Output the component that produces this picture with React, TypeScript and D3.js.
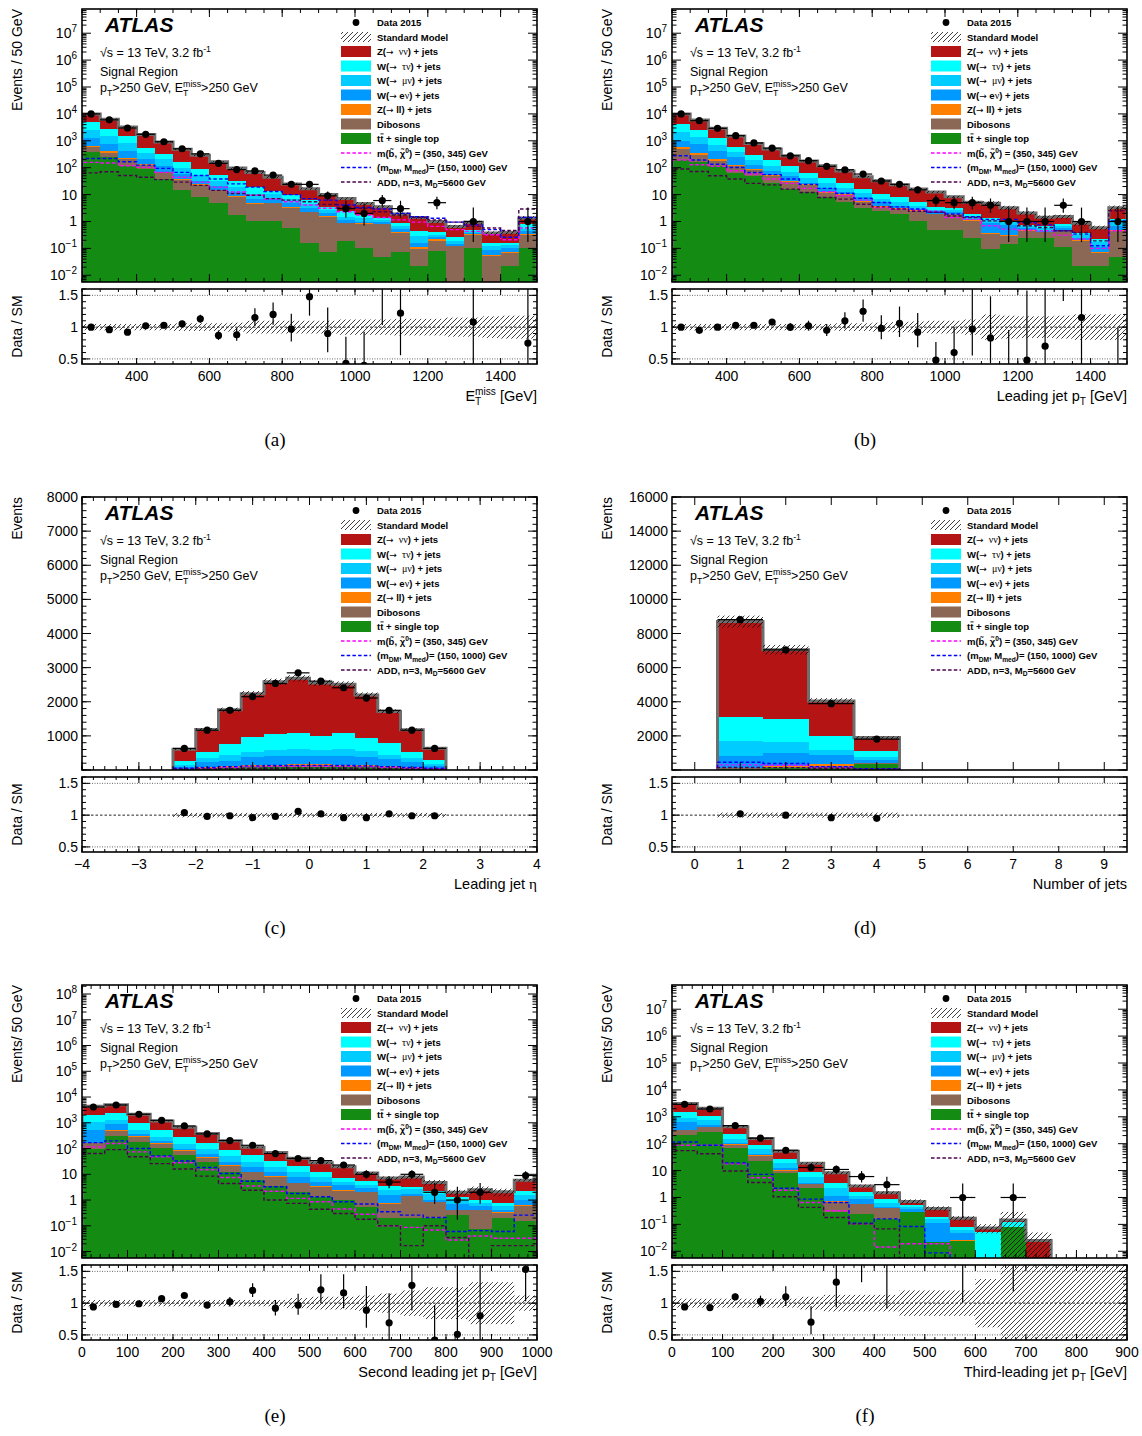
import React from 'react';
import * as d3 from 'd3';

const FONT = '"Liberation Sans", Arial, Helvetica, sans-serif';
const SERIF = '"Liberation Serif", "DejaVu Serif", serif';

// stack order, bottom first: ttbar, dibosons, Z(ll), W(ev), W(mv), W(tv), Z(vv)
const PROCESS_COLORS = ['#148c14', '#8b6856', '#ff8000', '#0099ff', '#00ccff', '#00ffff', '#b51414'];
const SIGNAL_COLORS = ['#ff00ff', '#0000ff', '#4d004d'];
const RATIO_DOMAIN: [number, number] = [0.42, 1.6];

// ---------------- (a) missing transverse momentum ----------------
const metEdges = d3.range(250, 1501, 50);
const metTtbar = [385, 260, 118, 89, 38, 14.4, 7.8, 5.0, 1.75, 1.06, 1.0, 0.57, 0.16, 0.075, 0.185, 0.106, 0.048, 0.075, 0.023, 0.08, 0, 0.106, 0, 0.023, 0.106];
const metDiboson = [200, 104, 101, 35, 29, 21.6, 15, 9.4, 6.5, 3.6, 3.7, 2.7, 2.0, 1.4, 0.68, 0.69, 0.75, 0.3, 0.07, 0.116, 0.12, 0.22, 0.05, 0.046, 0.22];
const metZll = [60, 43, 20, 8, 5, 2, 1.5, 0.9, 0.5, 0.3, 0.3, 0.2, 0.1, 0.1, 0.05, 0.05, 0.03, 0.04, 0.02, 0.02, 0.006, 0.01, 0.008, 0.006, 0.01];
const metWenu = [645, 327, 180, 87, 45, 21, 8.7, 4.7, 3.8, 2.1, 2.1, 1.5, 0.8, 0.5, 0.23, 0.15, 0.12, 0.09, 0.05, 0.04, 0.02, 0.035, 0.032, 0.031, 0.1];
const metWmunu = [1310, 746, 381, 145, 89, 38, 21, 12, 6.5, 3.8, 3.8, 2.1, 1.6, 0.6, 0.35, 0.32, 0.2, 0.16, 0.12, 0.065, 0.048, 0.06, 0.03, 0.023, 0.09];
const metWtaunu = [2220, 1270, 680, 191, 109, 69, 35, 22, 13, 7.6, 2.3, 2.4, 1.9, 0.8, 1.0, 0.43, 0.25, 0.21, 0.15, 0.1, 0.08, 0.07, 0.04, 0.032, 0.28];
const metZnunu = [5180, 3630, 1770, 1150, 578, 316, 201, 112, 65, 48, 31, 15.5, 10, 6.5, 4.6, 2.95, 2.1, 1.03, 0.97, 0.57, 0.38, 0.43, 0.21, 0.24, 0.55];
const metData = [10000, 6000, 2990, 1740, 920, 505, 328, 145, 85, 76, 53, 24, 24, 9, 3, 2, 6, 3, 0, 5, 0, 1, 0, 0, 1];
const metRatio = [1.0, 0.96, 0.92, 1.02, 1.03, 1.05, 1.13, 0.87, 0.88, 1.15, 1.2, 0.97, 1.48, 0.9, 0.43, 0.4, 1.71, 1.22, null, 5.0, null, 1.08, null, null, 0.75];
const metUnc = [0.05, 0.05, 0.05, 0.05, 0.05, 0.06, 0.06, 0.06, 0.07, 0.1, 0.1, 0.1, 0.1, 0.1, 0.12, 0.12, 0.12, 0.13, 0.13, 0.13, 0.15, 0.15, 0.17, 0.18, 0.18];
const metSbottom = [157, 150, 118, 103, 67, 44, 29, 19, 12.5, 9.5, 6.8, 5.4, 4.1, 3.1, 2.3, 1.75, 1.4, 1.15, 0.95, 0.66, 0.5, 0.43, 0.32, 0.21, 0.57];
const metDM = [219, 219, 166, 125, 94, 67, 51, 38, 25, 19, 13, 10, 7.1, 6.2, 4.1, 3.3, 2.9, 2.0, 1.5, 1.32, 0.95, 0.75, 0.5, 0.26, 1.4];
const metADD = [64, 71, 51, 44, 36, 29, 22, 14.4, 10.9, 9.5, 7.1, 6.2, 5.4, 4.3, 3.3, 3.1, 2.3, 1.75, 1.4, 1.15, 0.95, 0.66, 0.57, 0.46, 2.9];

// ---------------- (b) leading jet pT ----------------
const ptEdges = d3.range(250, 1501, 50);
const ptTtbar = [190, 157, 118, 66, 50, 28, 16, 12, 7.8, 5.1, 3.3, 2.5, 1.9, 1.05, 0.48, 0.48, 0.25, 0.093, 0.143, 0.25, 0.25, 0.108, 0.022, 0.022, 0.046];
const ptDiboson = [300, 143, 64, 52, 31, 22, 14, 10.5, 3.2, 4.5, 1.8, 0.8, 1.0, 1.45, 1.4, 1.4, 0.8, 0.25, 0.15, 0.2, 0.14, 0.34, 0.17, 0.048, 0.4];
const ptZll = [80, 40, 26, 11, 8, 5, 2, 2, 1, 0.8, 0.8, 0.5, 0.4, 0.1, 0.1, 0.1, 0.05, 0.02, 0.02, 0.02, 0.02, 0.02, 0.01, 0.005, 0.02];
const ptWenu = [430, 420, 217, 111, 40, 22, 18, 3.5, 5, 1.6, 1.9, 1.3, 0.5, 0.3, 0.3, 0.3, 0.15, 0.5, 0.4, 0.1, 0.05, 0.1, 0.05, 0.04, 0.2];
const ptWmunu = [1050, 580, 295, 130, 63, 41, 22, 15, 9, 5.4, 3.2, 1.7, 1.3, 0.9, 0.5, 0.4, 0.3, 0.3, 0.2, 0.1, 0.1, 0.1, 0.06, 0.06, 0.3];
const ptWtaunu = [2150, 1160, 540, 230, 108, 74, 46, 23, 17, 10.6, 5, 3.6, 2.7, 1.3, 0.8, 0.6, 0.4, 0.2, 0.15, 0.1, 0.1, 0.15, 0.05, 0.05, 0.3];
const ptZnunu = [5800, 3400, 1640, 900, 500, 303, 159, 112, 75, 48, 30, 22.6, 15.2, 10.9, 8.9, 5.0, 3.2, 3.4, 2.2, 1.3, 0.78, 0.7, 0.5, 0.36, 2.0];
const ptData = [10000, 5600, 2900, 1550, 830, 535, 277, 182, 112, 84, 58, 32, 24, 15, 6, 5, 5, 4, 1, 1, 1, 4, 1, 0, 1];
const ptRatio = [1.0, 0.95, 1.0, 1.03, 1.03, 1.08, 1.0, 1.02, 0.95, 1.1, 1.25, 0.98, 1.06, 0.92, 0.48, 0.6, 0.97, 0.83, 0.29, 0.48, 0.7, 2.7, 1.15, null, 0.3];
const ptUnc = [0.05, 0.05, 0.05, 0.05, 0.05, 0.05, 0.05, 0.05, 0.05, 0.06, 0.06, 0.07, 0.08, 0.09, 0.1, 0.1, 0.12, 0.2, 0.18, 0.17, 0.17, 0.18, 0.2, 0.2, 0.2];
const ptSbottom = [192, 129, 112, 77, 58, 38, 26, 17, 12.7, 9, 6.2, 3.3, 2.9, 2.6, 2.4, 1.4, 1.2, 0.69, 0.52, 0.48, 0.45, 0.31, 0.22, 0.1, 0.45];
const ptDM = [277, 192, 135, 102, 66, 55, 38, 24, 17, 11, 7.2, 5.1, 3.5, 2.9, 2.2, 1.9, 1.5, 1.2, 1.2, 0.92, 0.75, 0.45, 0.34, 0.125, 1.05];
const ptADD = [89, 72, 50, 38, 26, 23, 16, 12, 7.8, 6.8, 4.4, 3.5, 2.9, 2.4, 2.2, 1.6, 1.4, 1.05, 1.0, 0.69, 0.6, 0.45, 0.39, 0.19, 2.5];

// ---------------- (c) leading jet eta ----------------
const etaEdges = d3.range(13).map(i => -2.4 + 0.4 * i);
const etaTtbar = [20, 40, 60, 75, 85, 90, 90, 85, 75, 60, 40, 20];
const etaDiboson = [10, 20, 30, 35, 40, 45, 45, 40, 35, 30, 20, 10];
const etaZll = [8, 15, 20, 25, 28, 30, 30, 28, 25, 20, 15, 8];
const etaWenu = [49, 148, 162, 234, 265, 253, 253, 265, 254, 211, 148, 69];
const etaWmunu = [68, 117, 165, 146, 175, 194, 165, 194, 175, 126, 117, 58];
const etaWtaunu = [117, 195, 321, 466, 457, 467, 417, 467, 379, 340, 195, 136];
const etaZnunu = [336, 655, 1010, 1256, 1538, 1607, 1553, 1431, 1254, 929, 643, 337];
const etaData = [632, 1166, 1750, 2148, 2536, 2847, 2604, 2410, 2109, 1750, 1166, 632];
const etaRatio = [1.04, 0.98, 0.99, 0.96, 0.98, 1.06, 1.02, 0.96, 0.96, 1.02, 0.99, 0.99];
const etaUnc = [0.035, 0.035, 0.035, 0.035, 0.035, 0.035, 0.035, 0.035, 0.035, 0.035, 0.035, 0.035];
const etaSbottom = [40, 60, 80, 95, 105, 110, 110, 105, 95, 80, 60, 40];
const etaDM = [50, 75, 100, 120, 130, 135, 135, 130, 120, 100, 75, 50];
const etaADD = [20, 30, 40, 48, 52, 55, 55, 52, 48, 40, 30, 20];

// ---------------- (d) jet multiplicity ----------------
const njEdges = [0.5, 1.5, 2.5, 3.5, 4.5];
const njTtbar = [50, 100, 200, 350];
const njDiboson = [40, 50, 60, 50];
const njZll = [50, 60, 100, 30];
const njWenu = [696, 782, 534, 173];
const njWmunu = [836, 622, 273, 136];
const njWtaunu = [1439, 1400, 797, 369];
const njZnunu = [5589, 4036, 2086, 792];
const njData = [8810, 7040, 3890, 1810];
const njRatio = [1.02, 1.0, 0.96, 0.95];
const njUnc = [0.04, 0.04, 0.04, 0.04];
const njSbottom = [300, 280, 150, 50];
const njDM = [450, 380, 200, 70];
const njADD = [150, 140, 100, 40];

// ---------------- (e) second leading jet pT ----------------
const pt2Edges = d3.range(0, 1001, 50);
const pt2Ttbar = [100, 300, 186, 106, 55, 30, 12.5, 5.9, 3.5, 2.1, 1.35, 1.0, 0.55, 0.195, 0.195, 0.195, 0.26, 0.073, 0.21, 0.16];
const pt2Diboson = [60, 190, 100, 45, 28, 13, 9, 6, 4.7, 2.4, 1.9, 1.3, 1.45, 0.5, 1.2, 0.62, 0.14, 0.32, 0.11, 0.42];
const pt2Zll = [10, 20, 14, 8, 4, 3, 1.5, 0.8, 0.4, 0.3, 0.15, 0.1, 0.1, 0.05, 0.05, 0.05, 0.02, 0.02, 0.01, 0.04];
const pt2Wenu = [340, 420, 60, 40, 13, 18, 7, 6.8, 3.9, 3.2, 1.7, 1.4, 0.9, 0.8, 0.35, 0.14, 0.28, 0.18, 0.08, 0.38];
const pt2Wmunu = [560, 390, 185, 83, 56, 36, 20, 10.5, 7, 4.5, 2.9, 1.3, 0.8, 0.85, 0.8, 0.66, 0.3, 0.15, 0.18, 0.56];
const pt2Wtaunu = [880, 1080, 435, 228, 126, 66, 36, 25, 12.5, 8.5, 4.5, 2.4, 1.7, 1.1, 0.7, 0.54, 0.35, 0.26, 0.2, 0.74];
const pt2Znunu = [2410, 2600, 1180, 660, 393, 214, 114, 57, 38, 21, 15.5, 12.3, 5.7, 3.7, 4.5, 2.6, 0.65, 1.5, 1.3, 3.6];
const pt2Data = [4100, 4900, 2140, 1250, 755, 370, 204, 134, 64, 41, 34, 23, 10, 5, 10, 2, 1, 2, 0, 9];
const pt2Ratio = [0.94, 0.98, 0.99, 1.07, 1.12, 0.97, 1.02, 1.2, 0.92, 0.97, 1.21, 1.16, 0.89, 0.69, 1.28, 0.42, 0.51, 0.8, null, 1.53];
const pt2Unc = [0.05, 0.05, 0.05, 0.05, 0.05, 0.05, 0.05, 0.05, 0.05, 0.08, 0.1, 0.1, 0.12, 0.15, 0.2, 0.25, 0.25, 0.33, 0.33, 0.12];
const pt2Sbottom = [116, 156, 74, 48, 28, 15, 7.5, 3.5, 2.2, 1.16, 0.86, 0.45, 0.28, 0.1, 0.087, 0.069, 0.028, 0.04, 0.033, 0.033];
const pt2DM = [170, 198, 100, 52, 33, 18.4, 10.8, 5.4, 3.3, 1.8, 1.35, 0.86, 0.7, 0.35, 0.26, 0.21, 0.06, 0.065, 0.06, 0.26];
const pt2ADD = [64, 91, 48, 26, 16, 8.5, 4.4, 2.4, 1.0, 0.74, 0.44, 0.3, 0.18, 0.1, 0.017, 0.1, 0.035, 0.001, 0.017, 0.017];

// ---------------- (f) third leading jet pT ----------------
const pt3Edges = d3.range(0, 901, 50);
const pt3Ttbar = [215, 270, 69, 23.6, 8.3, 2.2, 0.3, 0.24, 0.16, 0.3, 0.022, 0.024, 0, 0.079, 0, 0, 0, 0];
const pt3Diboson = [105, 130, 21, 12, 1.7, 0.9, 0.39, 0.31, 0.24, 0, 0, 0, 0, 0, 0, 0, 0, 0];
const pt3Zll = [15, 10, 4, 1, 0.5, 0.1, 0.05, 0.03, 0.01, 0, 0, 0.003, 0, 0, 0, 0, 0, 0];
const pt3Wenu = [300, 90, 12, 6.4, 2.2, 0.4, 0.41, 0.29, 0.02, 0.06, 0.09, 0.02, 0, 0, 0, 0, 0, 0];
const pt3Wmunu = [300, 250, 42, 20, 6, 2.2, 1.2, 0.3, 0.22, 0.07, 0.05, 0.015, 0, 0, 0, 0, 0, 0];
const pt3Wtaunu = [615, 350, 80, 29, 8.3, 3.0, 1.25, 0.43, 0.22, 0.11, 0.03, 0.017, 0.051, 0.041, 0, 0, 0, 0];
const pt3Znunu = [1540, 1000, 199, 63, 25, 9.8, 4.7, 1.1, 0.63, 0.17, 0.2, 0.09, 0.023, 0.026, 0.025, 0, 0, 0];
const pt3Data = [2900, 1950, 470, 160, 57, 13, 11, 6, 3, 0, 0, 1, 0, 1, 0, 0, 0, 0];
const pt3Ratio = [0.94, 0.93, 1.1, 1.03, 1.1, 0.7, 1.33, 2.2, 2.0, null, null, 5.9, null, 6.9, null, null, null, null];
const pt3Unc = [0.07, 0.07, 0.07, 0.07, 0.07, 0.1, 0.13, 0.13, 0.13, 0.2, 0.2, 0.2, 0.38, 1, 1, 1, 1, 1];
const pt3Sbottom = [87, 87, 18, 5.4, 1.86, 0.65, 0.32, 0.104, 0.0145, 0.019, 0.019];
const pt3DM = [115, 87, 19.4, 7.2, 2.2, 0.87, 0.65, 0.11, 0.16, 0.083, 0.0087];
const pt3ADD = [55, 42, 9.6, 3.6, 1.06, 0.43, 0.18, 0.104, 0.068, 0.001];

// ---------------- helpers ----------------
type SegKind = 'n' | 'sub' | 'sup' | 'supT' | 'arrow' | 'greek' | 'greekSp';
type Seg = [string, SegKind];

function rich(segs: Seg[], fs: number) {
  let cur = 0;
  const small = fs * 0.7;
  return segs.map(([t, k], i) => {
    let target = 0;
    let size = fs;
    let dx = 0;
    let family: string | undefined;
    let weight: string | undefined;
    if (k === 'sub') { target = fs * 0.3; size = small; }
    if (k === 'sup') { target = -fs * 0.42; size = small; }
    if (k === 'supT') { target = -fs * 0.42; size = small; dx = -small * 0.61; }
    if (k === 'arrow') { family = '"DejaVu Sans", sans-serif'; weight = 'normal'; size = fs * 0.95; }
    if (k === 'greek' || k === 'greekSp') { family = SERIF; weight = 'normal'; size = fs * 1.05; }
    if (k === 'greekSp') dx = fs * 0.55;
    const dy = target - cur;
    cur = target;
    return (
      <tspan key={i} fontSize={size} dy={dy || undefined} dx={dx || undefined}
        fontFamily={family} fontWeight={weight}>{t}</tspan>
    );
  });
}

// approximate 68% CL Poisson interval for n observed events
function poissonInterval(n: number): [number, number] {
  const lo = n * Math.pow(1 - 1 / (9 * n) - 1 / (3 * Math.sqrt(n)), 3);
  const m = n + 1;
  const hi = m * Math.pow(1 - 1 / (9 * m) + 1 / (3 * Math.sqrt(m)), 3);
  return [lo, hi];
}

function logTicks(domain: [number, number]) {
  const [a, b] = domain;
  const major: number[] = [];
  const minor: number[] = [];
  for (let e = Math.floor(Math.log10(a)); e <= Math.ceil(Math.log10(b)); e++) {
    for (let k = 1; k < 10; k++) {
      const v = k * Math.pow(10, e);
      if (v < a || v > b) continue;
      (k === 1 ? major : minor).push(v);
    }
  }
  return { major, minor };
}

type PanelCfg = {
  left: number;
  top: number;
  edges: number[];
  xDomain: [number, number];
  xMajor: number[];
  xMinor: number[];
  xLabel: (v: number) => string;
  logY: boolean;
  yDomain: [number, number];
  yMajor: number[];
  yMinor: number[];
  procs: number[][];
  data: number[];
  ratio: (number | null)[];
  unc: number[];
  signals: number[][];
  yTitle: string;
  xTitle: Seg[];
  caption: string;
};

const LEGEND_ROWS: { kind: string; idx?: number; label: Seg[] }[] = [
  { kind: 'data', label: [['Data 2015', 'n']] },
  { kind: 'sm', label: [['Standard Model', 'n']] },
  { kind: 'proc', idx: 6, label: [['Z(', 'n'], ['→', 'arrow'], ['νν', 'greekSp'], [') + jets', 'n']] },
  { kind: 'proc', idx: 5, label: [['W(', 'n'], ['→', 'arrow'], ['τν', 'greekSp'], [') + jets', 'n']] },
  { kind: 'proc', idx: 4, label: [['W(', 'n'], ['→', 'arrow'], ['μν', 'greekSp'], [') + jets', 'n']] },
  { kind: 'proc', idx: 3, label: [['W(', 'n'], ['→', 'arrow'], [' e', 'n'], ['ν', 'greek'], [') + jets', 'n']] },
  { kind: 'proc', idx: 2, label: [['Z(', 'n'], ['→', 'arrow'], [' ll) + jets', 'n']] },
  { kind: 'proc', idx: 1, label: [['Dibosons', 'n']] },
  { kind: 'proc', idx: 0, label: [['tt + single top', 'n']] },
  { kind: 'sig', idx: 0, label: [['m(b\u0303, \u03c7\u0303', 'n'], ['0', 'sup'], [') = (350, 345) GeV', 'n']] },
  { kind: 'sig', idx: 1, label: [['(m', 'n'], ['DM', 'sub'], [', M', 'n'], ['med', 'sub'], [')= (150, 1000) GeV', 'n']] },
  { kind: 'sig', idx: 2, label: [['ADD, n=3, M', 'n'], ['D', 'sub'], ['=5600 GeV', 'n']] },
];

function Panel({ c, id }: { c: PanelCfg; id: string }) {
  const W = 455;
  const H = 273;
  const L = c.left;
  const T = c.top;
  const B = T + H;
  const RT = T + 280;
  const RB = T + 355;
  const e = c.edges;
  const nb = e.length - 1;
  const x = d3.scaleLinear().domain(c.xDomain).range([L, L + W]);
  const y: any = c.logY
    ? d3.scaleLog().domain(c.yDomain).range([B, T])
    : d3.scaleLinear().domain(c.yDomain).range([B, T]);
  const low = B + 4;
  const yv = (v: number) => (v <= c.yDomain[0] ? low : y(v));
  const r = d3.scaleLinear().domain(RATIO_DOMAIN).range([RB, RT]);
  const totals = d3.range(nb).map(i => d3.sum(c.procs, p => p[i] || 0));

  const step = (vals: number[]) => {
    let d = `M${x(e[0])},${low}`;
    vals.forEach((v, i) => {
      d += `V${yv(v)}H${x(e[i + 1])}`;
    });
    return d + `V${low}`;
  };

  const stackRects: React.ReactNode[] = [];
  for (let i = 0; i < nb; i++) {
    let cum = 0;
    c.procs.forEach((p, k) => {
      const v = p[i] || 0;
      if (v <= 0) return;
      const y0 = yv(cum);
      const y1 = yv(cum + v);
      cum += v;
      if (y0 - y1 <= 0) return;
      stackRects.push(
        <rect key={`s${i}-${k}`} x={x(e[i])} y={y1} width={x(e[i + 1]) - x(e[i])} height={y0 - y1}
          fill={PROCESS_COLORS[k]} shapeRendering="crispEdges" />
      );
    });
  }

  const mainBand = totals.map((t, i) => {
    if (t <= 0) return null;
    const u = c.unc[i];
    const yTopB = yv(t * (1 + u));
    const yBotB = yv(t * (1 - u));
    return <rect key={`mb${i}`} x={x(e[i])} y={yTopB} width={x(e[i + 1]) - x(e[i])} height={yBotB - yTopB} fill="url(#smHatch)" />;
  });

  let lastNonZero = totals.length - 1;
  while (lastNonZero > 0 && totals[lastNonZero] <= 0) lastNonZero--;
  const totalPath = step(totals.slice(0, lastNonZero + 1));

  const dataMarks: React.ReactNode[] = [];
  c.data.forEach((n, i) => {
    if (!n) return;
    const cx = (x(e[i]) + x(e[i + 1])) / 2;
    const [lo, hi] = poissonInterval(n);
    const cy = yv(n);
    dataMarks.push(
      <g key={`d${i}`}>
        <line x1={cx} x2={cx} y1={yv(hi)} y2={yv(lo)} stroke="#000" strokeWidth={1.2} />
        <line x1={x(e[i])} x2={x(e[i + 1])} y1={cy} y2={cy} stroke="#000" strokeWidth={1.2} />
        <circle cx={cx} cy={cy} r={3.6} fill="#000" />
      </g>
    );
  });

  const ratioMarks: React.ReactNode[] = [];
  c.ratio.forEach((rv, i) => {
    const n = c.data[i];
    if (rv == null || !n) return;
    const cx = (x(e[i]) + x(e[i + 1])) / 2;
    const [lo, hi] = poissonInterval(n);
    ratioMarks.push(
      <g key={`r${i}`}>
        <line x1={cx} x2={cx} y1={r(rv * hi / n)} y2={r(rv * lo / n)} stroke="#000" strokeWidth={1.2} />
        <circle cx={cx} cy={r(rv)} r={3.6} fill="#000" />
      </g>
    );
  });

  const ratioBand = c.unc.map((u, i) => {
    const y1 = r(1 + u);
    const y0 = r(1 - u);
    return <rect key={`rb${i}`} x={x(e[i])} y={y1} width={x(e[i + 1]) - x(e[i])} height={y0 - y1} fill="url(#smHatch)" />;
  });

  // ticks on all four sides of both pads
  const tick = (key: string, x1: number, y1: number, x2: number, y2: number) => (
    <line key={key} x1={x1} y1={y1} x2={x2} y2={y2} stroke="#000" strokeWidth={1} />
  );
  const ticks: React.ReactNode[] = [];
  c.xMajor.forEach((v, i) => {
    const xx = x(v);
    ticks.push(tick(`xmb${i}`, xx, B, xx, B - 8), tick(`xmt${i}`, xx, T, xx, T + 8));
    ticks.push(tick(`xrb${i}`, xx, RB, xx, RB - 6), tick(`xrt${i}`, xx, RT, xx, RT + 6));
  });
  c.xMinor.forEach((v, i) => {
    const xx = x(v);
    ticks.push(tick(`xnb${i}`, xx, B, xx, B - 4), tick(`xnt${i}`, xx, T, xx, T + 4));
    ticks.push(tick(`xsb${i}`, xx, RB, xx, RB - 3), tick(`xst${i}`, xx, RT, xx, RT + 3));
  });
  c.yMajor.forEach((v, i) => {
    const yy = y(v);
    ticks.push(tick(`yml${i}`, L, yy, L + 9, yy), tick(`ymr${i}`, L + W, yy, L + W - 9, yy));
  });
  c.yMinor.forEach((v, i) => {
    const yy = y(v);
    ticks.push(tick(`ynl${i}`, L, yy, L + 4.5, yy), tick(`ynr${i}`, L + W, yy, L + W - 4.5, yy));
  });
  const ratioMajor = [0.5, 1, 1.5];
  const ratioMinor = d3.range(5, 17).map(k => k / 10);
  ratioMajor.forEach((v, i) => {
    const yy = r(v);
    ticks.push(tick(`rml${i}`, L, yy, L + 8, yy), tick(`rmr${i}`, L + W, yy, L + W - 8, yy));
  });
  ratioMinor.forEach((v, i) => {
    const yy = r(v);
    ticks.push(tick(`rnl${i}`, L, yy, L + 4, yy), tick(`rnr${i}`, L + W, yy, L + W - 4, yy));
  });

  const yLabels = c.yMajor.map((v, i) => {
    const yy = y(v) + 5;
    if (c.logY) {
      const ex = Math.round(Math.log10(v));
      if (ex === 0 || ex === 1) {
        return <text key={`yl${i}`} x={L - 5} y={yy} textAnchor="end" fontSize={14}>{ex === 0 ? '1' : '10'}</text>;
      }
      return (
        <text key={`yl${i}`} x={L - 5} y={yy} textAnchor="end" fontSize={14}>
          10<tspan fontSize={10} dy={-6}>{ex < 0 ? `\u2212${-ex}` : `${ex}`}</tspan>
        </text>
      );
    }
    if (v === 0) return null;
    return <text key={`yl${i}`} x={L - 4} y={yy} textAnchor="end" fontSize={14}>{String(v)}</text>;
  });

  const lx = L + 259;
  const legend = LEGEND_ROWS.map((row, i) => {
    const cy = T + 13.5 + i * 14.5;
    let sample: React.ReactNode = null;
    if (row.kind === 'data') sample = <circle cx={lx + 15} cy={cy} r={3.4} fill="#000" />;
    if (row.kind === 'sm') sample = <rect x={lx} y={cy - 5} width={30} height={10} fill="url(#smHatch)" />;
    if (row.kind === 'proc') sample = <rect x={lx} y={cy - 5.5} width={30} height={11} fill={PROCESS_COLORS[row.idx!]} />;
    if (row.kind === 'sig') sample = <line x1={lx} x2={lx + 30} y1={cy} y2={cy} stroke={SIGNAL_COLORS[row.idx!]} strokeWidth={1.4} strokeDasharray="3.5 2.2" />;
    return (
      <g key={`lg${i}`}>
        {sample}
        <text x={L + 295} y={cy + 3.5} fontSize={9.5} fontWeight="bold">{rich(row.label, 9.5)}</text>
        {row.idx === 0 && row.kind === 'proc' ? (
          <line x1={L + 298.5} x2={L + 301.6} y1={cy - 4.6} y2={cy - 4.6} stroke="#000" strokeWidth={0.9} />
        ) : null}
      </g>
    );
  });

  return (
    <g>
      <defs>
        <clipPath id={`${id}m`}><rect x={L} y={T} width={W} height={H} /></clipPath>
        <clipPath id={`${id}r`}><rect x={L} y={RT} width={W} height={RB - RT} /></clipPath>
      </defs>

      {/* main pad */}
      <g clipPath={`url(#${id}m)`}>
        {stackRects}
        <path d={totalPath} fill="none" stroke="#6e6e6e" strokeWidth={3} />
        {mainBand}
        {c.signals.map((s, k) => (
          <path key={`sig${k}`} d={step(s)} fill="none" stroke={SIGNAL_COLORS[k]} strokeWidth={1.4} strokeDasharray="3.5 2.2" />
        ))}
        {dataMarks}
      </g>

      {/* ratio pad */}
      <g clipPath={`url(#${id}r)`}>
        {ratioBand}
        <line x1={L} x2={L + W} y1={r(1)} y2={r(1)} stroke="#222" strokeWidth={1} strokeDasharray="2.5 2" />
        <line x1={L} x2={L + W} y1={r(0.5)} y2={r(0.5)} stroke="#666" strokeWidth={1} strokeDasharray="1 1.5" />
        <line x1={L} x2={L + W} y1={r(1.5)} y2={r(1.5)} stroke="#666" strokeWidth={1} strokeDasharray="1 1.5" />
        {ratioMarks}
      </g>

      {ticks}
      <rect x={L} y={T} width={W} height={H} fill="none" stroke="#000" strokeWidth={1.6} />
      <rect x={L} y={RT} width={W} height={RB - RT} fill="none" stroke="#000" strokeWidth={1.6} />

      {yLabels}
      {ratioMajor.map((v, i) => (
        <text key={`rl${i}`} x={L - 4} y={r(v) + 5} textAnchor="end" fontSize={14}>{String(v)}</text>
      ))}
      {c.xMajor.map((v, i) => (
        <text key={`xl${i}`} x={x(v)} y={RB + 17} textAnchor="middle" fontSize={14}>{c.xLabel(v)}</text>
      ))}

      <text transform={`translate(${L - 60},${T}) rotate(-90)`} textAnchor="end" fontSize={14}>{c.yTitle}</text>
      <text transform={`translate(${L - 60},${(RT + RB) / 2}) rotate(-90)`} textAnchor="middle" fontSize={14}>Data / SM</text>
      <text x={L + W} y={T + 392} textAnchor="end" fontSize={14.5}>{rich(c.xTitle, 14.5)}</text>
      <text x={L + 193} y={T + 437} textAnchor="middle" fontSize={19} fontFamily={SERIF}>{c.caption}</text>

      {/* labels inside the frame */}
      <text x={L + 23} y={T + 23} fontSize={21} fontWeight="bold" fontStyle="italic">ATLAS</text>
      <text x={L + 18} y={T + 48} fontSize={12.5}>{rich([['√s = 13 TeV, 3.2 fb', 'n'], ['-1', 'sup']], 12.5)}</text>
      <text x={L + 18} y={T + 67} fontSize={12.5}>Signal Region</text>
      <text x={L + 18} y={T + 83} fontSize={12.5}>
        {rich([['p', 'n'], ['T', 'sub'], ['>250 GeV, E', 'n'], ['T', 'sub'], ['miss', 'supT'], ['>250 GeV', 'n']], 12.5)}
      </text>
      {legend}
    </g>
  );
}

const logAB = logTicks([Math.pow(10, -2.25), Math.pow(10, 7.9)]);
const logE = logTicks([Math.pow(10, -2.25), Math.pow(10, 8.35)]);
const gevLabel = (v: number) => String(v);

const PANELS: PanelCfg[] = [
  {
    left: 82, top: 9, edges: metEdges, xDomain: [250, 1500],
    xMajor: d3.range(400, 1401, 200), xMinor: d3.range(250, 1501, 50), xLabel: gevLabel,
    logY: true, yDomain: [Math.pow(10, -2.25), Math.pow(10, 7.9)], yMajor: logAB.major, yMinor: logAB.minor,
    procs: [metTtbar, metDiboson, metZll, metWenu, metWmunu, metWtaunu, metZnunu],
    data: metData, ratio: metRatio, unc: metUnc, signals: [metSbottom, metDM, metADD],
    yTitle: 'Events / 50 GeV', xTitle: [['E', 'n'], ['T', 'sub'], ['miss', 'supT'], [' [GeV]', 'n']], caption: '(a)',
  },
  {
    left: 672, top: 9, edges: ptEdges, xDomain: [250, 1500],
    xMajor: d3.range(400, 1401, 200), xMinor: d3.range(250, 1501, 50), xLabel: gevLabel,
    logY: true, yDomain: [Math.pow(10, -2.25), Math.pow(10, 7.9)], yMajor: logAB.major, yMinor: logAB.minor,
    procs: [ptTtbar, ptDiboson, ptZll, ptWenu, ptWmunu, ptWtaunu, ptZnunu],
    data: ptData, ratio: ptRatio, unc: ptUnc, signals: [ptSbottom, ptDM, ptADD],
    yTitle: 'Events / 50 GeV', xTitle: [['Leading jet p', 'n'], ['T', 'sub'], [' [GeV]', 'n']], caption: '(b)',
  },
  {
    left: 82, top: 497, edges: etaEdges, xDomain: [-4, 4],
    xMajor: d3.range(-4, 4.001, 1), xMinor: d3.range(0, 41).map(k => -4 + 0.2 * k),
    xLabel: (v: number) => (v < 0 ? `\u2212${-v}` : String(v)),
    logY: false, yDomain: [0, 8000], yMajor: d3.range(0, 8001, 1000), yMinor: d3.range(0, 8001, 200),
    procs: [etaTtbar, etaDiboson, etaZll, etaWenu, etaWmunu, etaWtaunu, etaZnunu],
    data: etaData, ratio: etaRatio, unc: etaUnc, signals: [etaSbottom, etaDM, etaADD],
    yTitle: 'Events', xTitle: [['Leading jet ', 'n'], ['η', 'greek']], caption: '(c)',
  },
  {
    left: 672, top: 497, edges: njEdges, xDomain: [-0.5, 9.5],
    xMajor: d3.range(0, 10, 1), xMinor: [], xLabel: gevLabel,
    logY: false, yDomain: [0, 16000], yMajor: d3.range(0, 16001, 2000), yMinor: d3.range(0, 16001, 400),
    procs: [njTtbar, njDiboson, njZll, njWenu, njWmunu, njWtaunu, njZnunu],
    data: njData, ratio: njRatio, unc: njUnc, signals: [njSbottom, njDM, njADD],
    yTitle: 'Events', xTitle: [['Number of jets', 'n']], caption: '(d)',
  },
  {
    left: 82, top: 985, edges: pt2Edges, xDomain: [0, 1000],
    xMajor: d3.range(0, 1001, 100), xMinor: d3.range(0, 1001, 20), xLabel: gevLabel,
    logY: true, yDomain: [Math.pow(10, -2.25), Math.pow(10, 8.35)], yMajor: logE.major, yMinor: logE.minor,
    procs: [pt2Ttbar, pt2Diboson, pt2Zll, pt2Wenu, pt2Wmunu, pt2Wtaunu, pt2Znunu],
    data: pt2Data, ratio: pt2Ratio, unc: pt2Unc, signals: [pt2Sbottom, pt2DM, pt2ADD],
    yTitle: 'Events/ 50 GeV', xTitle: [['Second leading jet p', 'n'], ['T', 'sub'], [' [GeV]', 'n']], caption: '(e)',
  },
  {
    left: 672, top: 985, edges: pt3Edges, xDomain: [0, 900],
    xMajor: d3.range(0, 901, 100), xMinor: d3.range(0, 901, 20), xLabel: gevLabel,
    logY: true, yDomain: [Math.pow(10, -2.25), Math.pow(10, 7.9)], yMajor: logAB.major, yMinor: logAB.minor,
    procs: [pt3Ttbar, pt3Diboson, pt3Zll, pt3Wenu, pt3Wmunu, pt3Wtaunu, pt3Znunu],
    data: pt3Data, ratio: pt3Ratio, unc: pt3Unc, signals: [pt3Sbottom, pt3DM, pt3ADD],
    yTitle: 'Events/ 50 GeV', xTitle: [['Third-leading jet p', 'n'], ['T', 'sub'], [' [GeV]', 'n']], caption: '(f)',
  },
];

export default function App() {
  return (
    <svg width={1142} height={1436} viewBox="0 0 1142 1436"
      style={{ position: 'absolute', left: 0, top: 0, background: '#fff' }} fontFamily={FONT}>
      <defs>
        <pattern id="smHatch" patternUnits="userSpaceOnUse" width={5} height={5}>
          <path d="M0,5 L5,0 M-1,1 L1,-1 M4,6 L6,4" stroke="#000" strokeWidth={0.75} />
        </pattern>
      </defs>
      <rect x={0} y={0} width={1142} height={1436} fill="#fff" />
      {PANELS.map((c, i) => <Panel key={i} c={c} id={`pn${i}`} />)}
    </svg>
  );
}
